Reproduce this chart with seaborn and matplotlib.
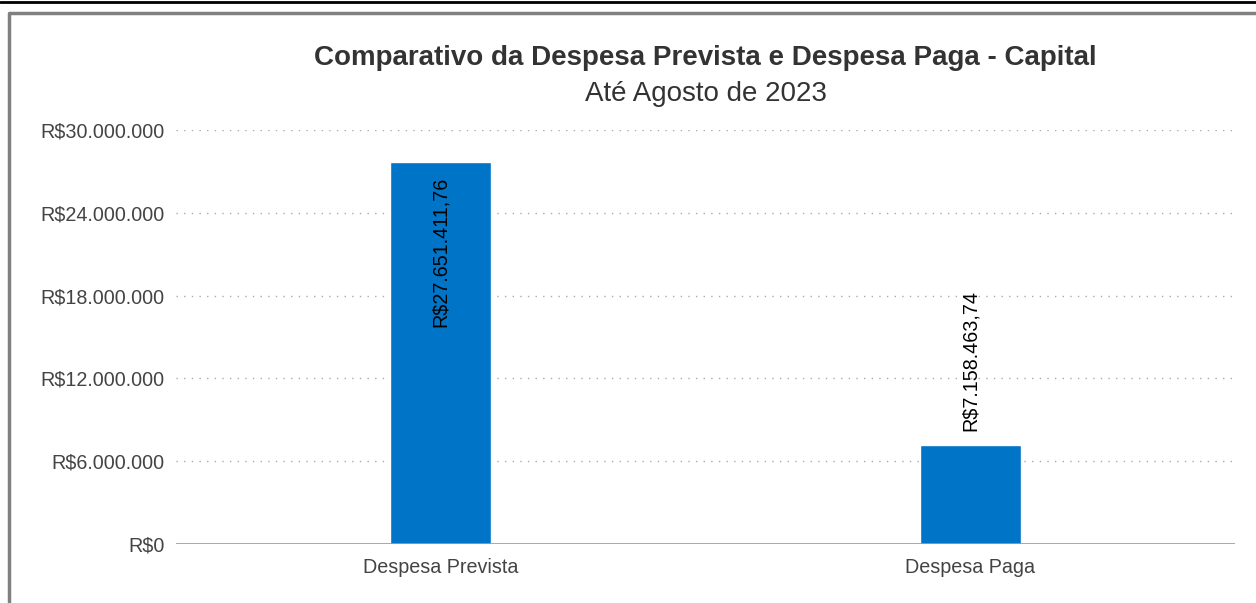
import pandas as pd
import seaborn as sns
import matplotlib.pyplot as plt
from matplotlib.lines import Line2D
from matplotlib.ticker import FuncFormatter

categorias = ['Despesa Prevista', 'Despesa Paga']
valores = [27651411.76, 7158463.74]
rotulos = ['R\\$27.651.411,76', 'R\\$7.158.463,74']
yticks = [0, 6000000, 12000000, 18000000, 24000000, 30000000]

titulo = 'Comparativo da Despesa Prevista e Despesa Paga - Capital'
subtitulo = 'Até Agosto de 2023'


def fmt_real(v, pos=None):
    s = '{:,.0f}'.format(v).replace(',', '.')
    return 'R\\$' + s


sns.set_theme(style='white')
plt.rcParams['font.family'] = ['Liberation Sans', 'DejaVu Sans']

df = pd.DataFrame({'Categoria': categorias, 'Valor': valores})

W, H = 1256, 603
fig = plt.figure(figsize=(W / 100, H / 100), dpi=100)
ax = fig.add_axes([176 / W, 1 - 544 / H, (1235 - 176) / W, (544 - 130) / H])

sns.barplot(data=df, x='Categoria', y='Valor', color='#0074c6', width=0.19,
            saturation=1, ax=ax, zorder=3)

ax.set_ylim(0, 30000000)
ax.set_yticks(yticks)
ax.yaxis.set_major_formatter(FuncFormatter(fmt_real))
ax.set_xlabel('')
ax.set_ylabel('')
ax.tick_params(axis='both', length=0, labelsize=14.2, labelcolor='#444444')
ax.tick_params(axis='y', pad=8)
ax.tick_params(axis='x', pad=10)
for s in ax.spines.values():
    s.set_visible(False)

for t in yticks[1:]:
    ax.axhline(t, color='#aaaaaa', lw=1, ls=(0, (1, 4.5)), zorder=1)
ax.axhline(0, color='#999999', lw=1.2, zorder=4)

# rotulos dos valores
ax.annotate(rotulos[0], (0, valores[0]), xytext=(0, -10), textcoords='offset points',
            rotation=90, ha='center', va='top', fontsize=14.2, color='black', zorder=5)
ax.annotate(rotulos[1], (1, valores[1]), xytext=(0, 10), textcoords='offset points',
            rotation=90, ha='center', va='bottom', fontsize=14.2, color='black', zorder=5)

cx = (176 + 1235) / 2 / W
fig.text(cx, 1 - 58 / H, titulo, ha='center', va='center', fontsize=20,
         fontweight='bold', color='#333333')
fig.text(cx, 1 - 94 / H, subtitulo, ha='center', va='center', fontsize=20,
         color='#333333')

# moldura
fig.add_artist(Line2D([0, 1], [1 - 2 / H, 1 - 2 / H], color='black', lw=2,
                      transform=fig.transFigure))
fig.add_artist(Line2D([9 / W, 9 / W, 1], [0, 1 - 13 / H, 1 - 13 / H], color='#808080',
                      lw=2.5, transform=fig.transFigure))

fig.savefig('out.png', dpi=100)
